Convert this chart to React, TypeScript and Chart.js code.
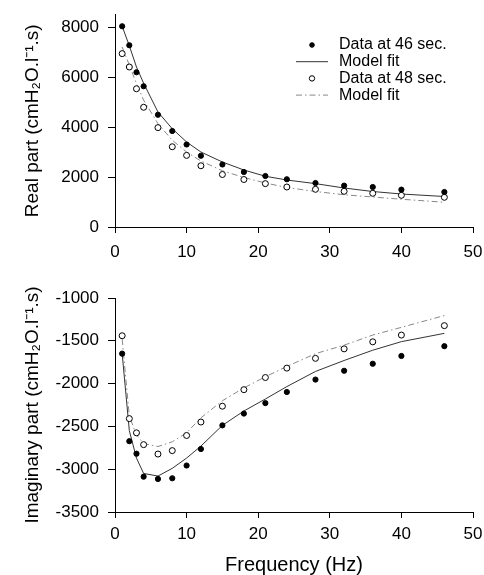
import { useEffect, useRef } from "react"
import { Chart, registerables } from "chart.js"

Chart.register(...registerables)

// Frequencies shared by both panels (Hz)
const frequencies = [1, 2, 3, 4, 6, 8, 10, 12, 15, 18, 21, 24, 28, 32, 36, 40, 46]

// Real part
const realData46 = [8030, 7270, 6190, 5630, 4490, 3840, 3300, 2850, 2500, 2200, 2040, 1910, 1760, 1655, 1600, 1495, 1400]
const realModel46 = [8030, 7250, 6400, 5750, 4600, 3930, 3400, 3000, 2600, 2280, 2030, 1880, 1735, 1560, 1420, 1320, 1220]
const realData48 = [6935, 6400, 5530, 4790, 3975, 3210, 2865, 2450, 2100, 1900, 1735, 1600, 1507, 1428, 1348, 1268, 1188]
const realModel48 = [7200, 6480, 5735, 5070, 4135, 3470, 3000, 2640, 2250, 1980, 1760, 1580, 1420, 1290, 1200, 1110, 990]

// Imaginary part
const imagData46 = [-1650, -2673, -2819, -3087, -3114, -3106, -2957, -2764, -2488, -2350, -2228, -2098, -1953, -1850, -1768, -1677, -1563]
const imagModel46 = [-1650, -2550, -2870, -3050, -3080, -2990, -2870, -2730, -2488, -2320, -2180, -2035, -1858, -1730, -1610, -1510, -1413]
const imagData48 = [-1441, -2409, -2575, -2713, -2823, -2783, -2606, -2449, -2264, -2071, -1929, -1819, -1705, -1594, -1512, -1433, -1323]
const imagModel48 = [-1480, -2380, -2600, -2700, -2735, -2680, -2575, -2400, -2200, -2050, -1920, -1800, -1650, -1551, -1433, -1343, -1205]

// Tick labels
const xTicks = [0, 10, 20, 30, 40, 50]
const realTicks = [0, 2000, 4000, 6000, 8000]
const imagTicks = [-3500, -3000, -2500, -2000, -1500, -1000]

const legendLabels = ["Data at 46 sec.", "Model fit", "Data at 48 sec.", "Model fit"]

const FONT = "'Liberation Sans', Arial, Helvetica, sans-serif"

const toPoints = (ys: number[]) => frequencies.map((x, i) => ({ x, y: ys[i] }))

function buildDatasets(d46: number[], m46: number[], d48: number[], m48: number[]) {
  return [
    {
      label: legendLabels[0],
      data: toPoints(d46),
      showLine: false,
      pointRadius: 2.6,
      pointBackgroundColor: "#000",
      pointBorderColor: "#000",
      pointBorderWidth: 1,
      order: 0,
    },
    {
      label: legendLabels[1],
      data: toPoints(m46),
      showLine: true,
      pointRadius: 0,
      borderColor: "#333",
      borderWidth: 1,
      tension: 0,
      order: 1,
    },
    {
      label: legendLabels[2],
      data: toPoints(d48),
      showLine: false,
      pointRadius: 3,
      pointBackgroundColor: "#fff",
      pointBorderColor: "#000",
      pointBorderWidth: 1,
      order: 0,
    },
    {
      label: legendLabels[3],
      data: toPoints(m48),
      showLine: true,
      pointRadius: 0,
      borderColor: "#888",
      borderWidth: 1,
      borderDash: [6, 3, 1.5, 3],
      tension: 0,
      order: 1,
    },
  ]
}

// Draws the legend inside the plot area (top right)
const insideLegend = {
  id: "insideLegend",
  afterDatasetsDraw(chart: any, _args: any, opts: any) {
    if (!opts || !opts.display) return
    const ctx = chart.ctx
    ctx.save()
    ctx.font = `16px ${FONT}`
    ctx.textBaseline = "middle"
    chart.data.datasets.forEach((ds: any, i: number) => {
      const y = opts.top + i * opts.rowGap
      if (ds.showLine) {
        ctx.beginPath()
        ctx.strokeStyle = ds.borderColor
        ctx.lineWidth = ds.borderWidth
        ctx.setLineDash(ds.borderDash || [])
        ctx.moveTo(opts.symbolX - 16, y)
        ctx.lineTo(opts.symbolX + 16, y)
        ctx.stroke()
        ctx.setLineDash([])
      } else {
        ctx.beginPath()
        ctx.arc(opts.symbolX, y, ds.pointRadius - 0.3, 0, Math.PI * 2)
        ctx.fillStyle = ds.pointBackgroundColor
        ctx.fill()
        ctx.strokeStyle = ds.pointBorderColor
        ctx.lineWidth = 1
        ctx.stroke()
      }
      ctx.fillStyle = "#000"
      ctx.fillText(ds.label, opts.textX, y)
    })
    ctx.restore()
  },
}

const fixedTicks = (values: number[]) => (scale: any) => {
  scale.ticks = values.map((value) => ({ value }))
}

function xAxis(height: number, tickPad: number, title: string | null) {
  return {
    type: "linear",
    min: 0,
    max: 50,
    afterBuildTicks: fixedTicks(xTicks),
    ticks: {
      color: "#000",
      padding: tickPad,
      maxRotation: 0,
      font: { family: FONT, size: 17 },
    },
    grid: { display: true, drawOnChartArea: false, drawTicks: true, tickLength: 6, color: "#000", lineWidth: 1 },
    border: { display: true, color: "#000", width: 1 },
    title: title
      ? { display: true, text: title, color: "#000", font: { family: FONT, size: 20 }, padding: { top: 0, bottom: -2 } }
      : { display: false },
    afterFit: (scale: any) => {
      scale.height = height
      scale.paddingLeft = 0
      scale.paddingRight = 0
    },
  }
}

function yAxis(min: number, max: number, values: number[], title: string) {
  return {
    type: "linear",
    min,
    max,
    afterBuildTicks: fixedTicks(values),
    ticks: {
      color: "#000",
      padding: 9,
      font: { family: FONT, size: 17 },
      callback: (v: any) => String(v),
    },
    grid: { display: true, drawOnChartArea: false, drawTicks: true, tickLength: 7, color: "#000", lineWidth: 1 },
    border: { display: true, color: "#000", width: 1 },
    title: {
      display: true,
      text: title,
      color: "#000",
      font: { family: FONT, size: 19 },
      padding: { top: 21, bottom: 0 },
    },
    afterFit: (scale: any) => {
      scale.width = 115
      scale.paddingTop = 0
      scale.paddingBottom = 0
    },
  }
}

function Panel({ top, height, config }: { top: number; height: number; config: () => any }) {
  const canvasRef = useRef<HTMLCanvasElement>(null)

  useEffect(() => {
    if (!canvasRef.current) return
    const chart = new Chart(canvasRef.current, config())
    return () => {
      chart.destroy()
    }
  }, [])

  return (
    <div style={{ position: "absolute", left: 0, top, width: 484, height }}>
      <canvas ref={canvasRef} />
    </div>
  )
}

const realConfig = () => ({
  type: "scatter",
  data: { datasets: buildDatasets(realData46, realModel46, realData48, realModel48) },
  plugins: [insideLegend],
  options: {
    animation: false,
    responsive: true,
    maintainAspectRatio: false,
    layout: { padding: { top: 14.5, right: 11, left: 0, bottom: 0 } },
    plugins: {
      legend: { display: false },
      tooltip: { enabled: false },
      insideLegend: { display: true, top: 45, rowGap: 16.7, symbolX: 312, textX: 339 },
    },
    scales: {
      x: xAxis(35, 9, null),
      y: yAxis(0, 8500, realTicks, "Real part (cmH₂O.l⁻¹.s)"),
    },
  },
})

const imagConfig = () => ({
  type: "scatter",
  data: { datasets: buildDatasets(imagData46, imagModel46, imagData48, imagModel48) },
  plugins: [insideLegend],
  options: {
    animation: false,
    responsive: true,
    maintainAspectRatio: false,
    layout: { padding: { top: 28, right: 11, left: 0, bottom: 0 } },
    plugins: {
      legend: { display: false },
      tooltip: { enabled: false },
      insideLegend: { display: false },
    },
    scales: {
      x: xAxis(63, 6, "Frequency (Hz)"),
      y: yAxis(-3500, -1000, imagTicks, "Imaginary part (cmH₂O.l⁻¹.s)"),
    },
  },
})

export default function App() {
  return (
    <div style={{ position: "absolute", left: 0, top: 0, width: 484, height: 575, background: "#fff" }}>
      <Panel top={0} height={262} config={realConfig} />
      <Panel top={270} height={305} config={imagConfig} />
    </div>
  )
}
